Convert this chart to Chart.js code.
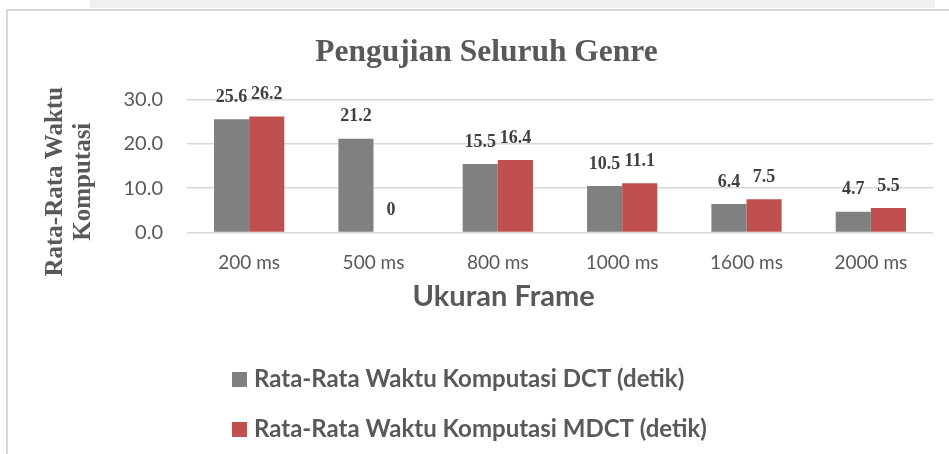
<!DOCTYPE html>
<html>
<head>
<meta charset="utf-8">
<script src="https://cdn.jsdelivr.net/npm/chart.js@4/dist/chart.umd.min.js"></script>
<style>
    body { margin: 0; background: #fff; }
    #strip { position: absolute; left: 90px; top: 0; width: 845px; height: 8px; background: #f0f0f0; }
    #frame { position: absolute; left: 6px; top: 9px; right: 0; bottom: 0; border-left: 2px solid #d9d9d9; border-top: 2px solid #d9d9d9; }
    #wrap { position: absolute; left: 0; top: 0; width: 949px; height: 454px; }
</style>
</head>
<body>
<div id="strip"></div>
<div id="frame"></div>
<div id="wrap"><canvas id="genreChart" width="949" height="454"></canvas></div>
<script>
// data
var frameSizes = ['200 ms', '500 ms', '800 ms', '1000 ms', '1600 ms', '2000 ms'];
var dctTimes = [25.6, 21.2, 15.5, 10.5, 6.4, 4.7];
var mdctTimes = [26.2, 0, 16.4, 11.1, 7.5, 5.5];
var seriesNames = ['Rata-Rata Waktu Komputasi DCT (detik)', 'Rata-Rata Waktu Komputasi MDCT (detik)'];
var yTicks = [0, 10, 20, 30];

var textGray = '#595959';

// trailing blanks push a centered axis title off-center, like in the original
function shifted(text, n) {
    return text + ' '.repeat(n);
}

// value labels above each bar
var barLabels = {
    id: 'barLabels',
    afterDatasetsDraw: function(chart) {
        var ctx = chart.ctx;
        ctx.save();
        ctx.font = 'bold 18px "Liberation Serif"';
        ctx.fillStyle = '#404040';
        ctx.textAlign = 'center';
        ctx.textBaseline = 'middle';
        chart.data.datasets.forEach(function(ds, i) {
            chart.getDatasetMeta(i).data.forEach(function(bar, j) {
                ctx.fillText(String(ds.data[j]), bar.x, bar.y - 22);
            });
        });
        ctx.restore();
    }
};

// legend stacked in two left-aligned rows, like the original
var stackedLegend = {
    id: 'stackedLegend',
    afterDraw: function(chart) {
        var ctx = chart.ctx;
        ctx.save();
        ctx.font = 'bold 24px Lato';
        ctx.textBaseline = 'middle';
        ctx.textAlign = 'left';
        chart.data.datasets.forEach(function(ds, i) {
            var y = 379 + i * 50;
            ctx.fillStyle = ds.backgroundColor;
            ctx.fillRect(232, y - 7, 15, 15);
            ctx.fillStyle = textGray;
            ctx.fillText(ds.label, 254, y);
        });
        ctx.restore();
    }
};

var ctx = document.getElementById('genreChart').getContext('2d');
var myChart = new Chart(ctx, {
    type: 'bar',
    data: {
        labels: frameSizes,
        datasets: [{
            label: seriesNames[0],
            data: dctTimes,
            backgroundColor: '#808080',
            categoryPercentage: 0.565,
            barPercentage: 1
        }, {
            label: seriesNames[1],
            data: mdctTimes,
            backgroundColor: '#c0504d',
            categoryPercentage: 0.565,
            barPercentage: 1
        }]
    },
    options: {
        responsive: false,
        animation: false,
        layout: {
            padding: { left: 40, right: 16, top: 0, bottom: 140 }
        },
        plugins: {
            legend: { display: false },
            tooltip: { enabled: false },
            title: {
                display: true,
                text: 'Pengujian Seluruh Genre',
                color: textGray,
                font: { family: 'Liberation Serif', size: 31.5, weight: 'bold' },
                padding: { top: 34, bottom: 28 }
            }
        },
        scales: {
            x: {
                grid: { display: false, drawTicks: false },
                border: { display: false },
                ticks: {
                    color: textGray,
                    font: { family: 'Lato', size: 19 },
                    padding: 19
                },
                title: {
                    display: true,
                    text: shifted('Ukuran Frame', 16),
                    color: textGray,
                    font: { family: 'Lato', size: 29, weight: 'bold' },
                    padding: { top: -14, bottom: 0 }
                }
            },
            y: {
                min: yTicks[0],
                max: yTicks[yTicks.length - 1],
                afterBuildTicks: function(scale) {
                    scale.ticks = yTicks.map(function(v) { return { value: v }; });
                },
                afterFit: function(scale) {
                    scale.width = 147;
                },
                grid: { color: '#d9d9d9', lineWidth: 1.5, drawTicks: false },
                border: { display: false },
                ticks: {
                    color: textGray,
                    font: { family: 'Lato', size: 20 },
                    padding: 24,
                    callback: function(v) { return Number(v).toFixed(1); }
                },
                title: {
                    display: true,
                    text: [shifted('Rata-Rata Waktu', 5), shifted('Komputasi', 5)],
                    color: textGray,
                    font: { family: 'Liberation Serif', size: 25, weight: 'bold', lineHeight: 1.1 },
                    padding: { top: 2, bottom: 0 }
                }
            }
        }
    },
    plugins: [barLabels, stackedLegend]
});
</script>
</body>
</html>
